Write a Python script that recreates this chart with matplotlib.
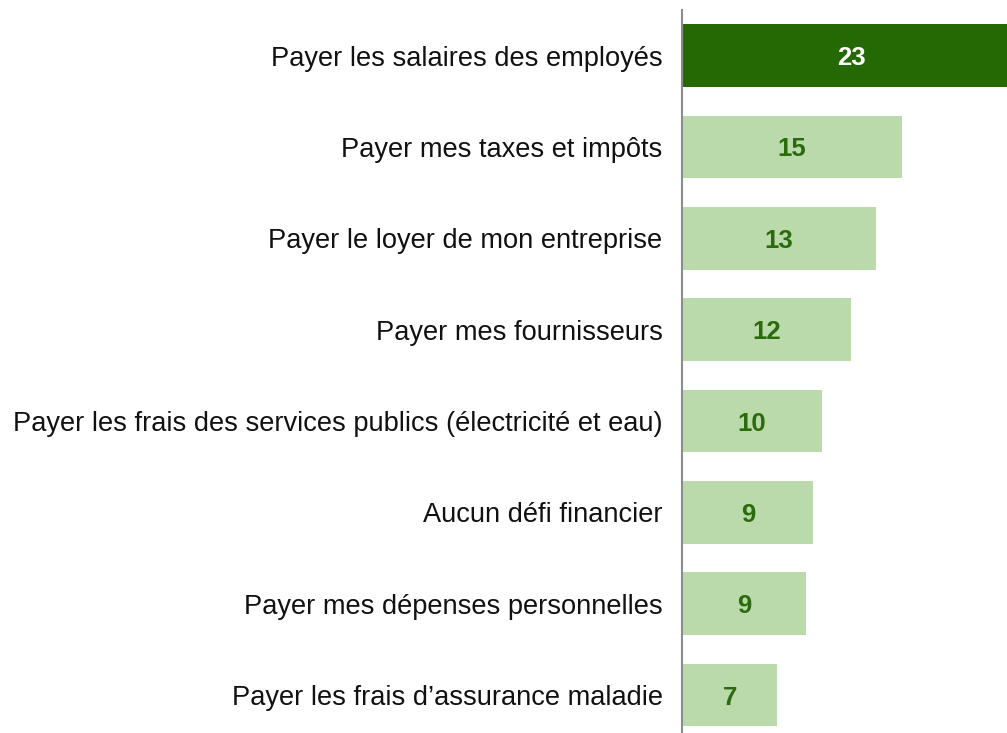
import matplotlib
matplotlib.use("Agg")
import matplotlib.pyplot as plt

# Financial challenges faced by business owners (% of respondents)
categories = [
    "Payer les salaires des employés",
    "Payer mes taxes et impôts",
    "Payer le loyer de mon entreprise",
    "Payer mes fournisseurs",
    "Payer les frais des services publics (électricité et eau)",
    "Aucun défi financier",
    "Payer mes dépenses personnelles",
    "Payer les frais d’assurance maladie",
]
values = [23.4, 15.2, 13.4, 11.7, 9.7, 9.1, 8.6, 6.6]
highlight = [True, False, False, False, False, False, False, False]

dark_green = "#256904"
light_green = "#bbdaab"
label_green = "#2a6b0b"

plt.rcParams["font.family"] = ["Liberation Sans", "DejaVu Sans"]

fig = plt.figure(figsize=(10.07, 7.33), dpi=100)
ax = fig.add_axes([0.6773, -0.0105, 0.3227, 0.9969])

ypos = list(range(len(categories)))
colors = [dark_green if h else light_green for h in highlight]
ax.barh(ypos, values, height=0.685, color=colors, edgecolor="none", zorder=2)

for y, v, h in zip(ypos, values, highlight):
    ax.text(v / 2, y, f"{v:.0f}", ha="center", va="center_baseline",
            fontsize=18.5, fontweight="bold",
            color="white" if h else label_green, zorder=3, clip_on=False)

ax.set_xlim(0, 22.5)
ax.set_ylim(len(categories) - 0.5, -0.5)
ax.set_yticks(ypos)
ax.set_yticklabels(categories, fontsize=19.6, color="#111111")
ax.tick_params(axis="y", length=0, pad=14)
ax.set_xticks([])

for side in ("top", "right", "bottom"):
    ax.spines[side].set_visible(False)
ax.spines["left"].set_color("#8c8c8c")
ax.spines["left"].set_linewidth(1.5)
ax.spines["left"].set_zorder(4)

fig.savefig("out.png", dpi=100)
